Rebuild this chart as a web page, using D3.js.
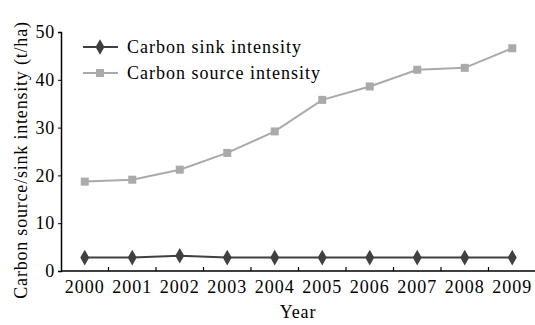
<!DOCTYPE html>
<html><head><meta charset="utf-8">
<script src="https://cdn.jsdelivr.net/npm/d3@7"></script>
<style>
body{margin:0;background:#fff;}
text{font-family:"Liberation Serif","Times New Roman",serif;fill:#000;}
</style></head>
<body><svg id="c" width="535" height="325"></svg>
<script>
const years = ["2000","2001","2002","2003","2004","2005","2006","2007","2008","2009"];
const sinkValues = [2.8, 2.8, 3.2, 2.8, 2.8, 2.8, 2.8, 2.8, 2.8, 2.8];
const sourceValues = [18.7, 19.1, 21.2, 24.7, 29.2, 35.8, 38.6, 42.1, 42.5, 46.6];
const yTicks = [0, 10, 20, 30, 40, 50];
const seriesNames = ["Carbon sink intensity", "Carbon source intensity"];

(function(){
const svg = d3.select("#c");
const mLeft = 61, mRight = 536, mTop = 32, mBottom = 271;
const x = d3.scaleBand().domain(years).range([mLeft, mRight]);
const y = d3.scaleLinear().domain([0, 50]).range([mBottom, mTop]);
const fs = 18;

// y axis
const ya = svg.append("g").attr("transform", `translate(${mLeft},0)`)
  .call(d3.axisLeft(y).tickValues(yTicks).tickSize(3).tickPadding(3));
ya.select(".domain").attr("stroke", "#000").attr("stroke-width", 1.5);
ya.selectAll("text").attr("font-size", fs).attr("letter-spacing", "0.8px");

// x axis line
svg.append("line").attr("x1", mLeft).attr("x2", 535).attr("y1", mBottom).attr("y2", mBottom)
  .attr("stroke", "#000").attr("stroke-width", 1.5);
// inner ticks at band boundaries
svg.append("g").selectAll("line").data(years.slice(1)).join("line")
  .attr("x1", d => x(d)).attr("x2", d => x(d))
  .attr("y1", mBottom).attr("y2", mBottom - 4)
  .attr("stroke", "#000").attr("stroke-width", 1.2);
svg.append("g").selectAll("text").data(years).join("text")
  .attr("x", d => x(d) + x.bandwidth() / 2).attr("y", mBottom + 22)
  .attr("text-anchor", "middle").attr("font-size", fs).attr("letter-spacing", "1px")
  .text(d => d);

// axis titles
svg.append("text").attr("x", 298).attr("y", 318).attr("text-anchor", "middle")
  .attr("font-size", fs).attr("letter-spacing", "0.8px").text("Year");
svg.append("text").attr("transform", "translate(27,160) rotate(-90)")
  .attr("text-anchor", "middle").attr("font-size", fs).attr("letter-spacing", "0.8px")
  .text("Carbon source/sink intensity (t/ha)");

const cx = d => x(d) + x.bandwidth() / 2;
const line = d3.line().x((d, i) => cx(years[i])).y(d => y(d));

const srcColor = "#aaaaaa", sinkColor = "#404040";

svg.append("path").datum(sourceValues).attr("d", line)
  .attr("fill", "none").attr("stroke", srcColor).attr("stroke-width", 2);
svg.append("g").selectAll("rect").data(sourceValues).join("rect")
  .attr("x", (d, i) => cx(years[i]) - 4).attr("y", d => y(d) - 4)
  .attr("width", 8).attr("height", 8).attr("fill", srcColor);

svg.append("path").datum(sinkValues).attr("d", line)
  .attr("fill", "none").attr("stroke", sinkColor).attr("stroke-width", 2);
const diamond = d3.symbol().type(d3.symbolDiamond).size(70);
svg.append("g").selectAll("path").data(sinkValues).join("path")
  .attr("transform", (d, i) => `translate(${cx(years[i])},${y(d)})`)
  .attr("d", diamond).attr("fill", sinkColor);

// legend
const leg = [{name: seriesNames[0], color: sinkColor, sym: "d", yy: 47},
             {name: seriesNames[1], color: srcColor, sym: "s", yy: 73}];
const lg = svg.append("g");
leg.forEach(l => {
  lg.append("line").attr("x1", 83).attr("x2", 118).attr("y1", l.yy).attr("y2", l.yy)
    .attr("stroke", l.color).attr("stroke-width", 2);
  if (l.sym === "d") lg.append("path").attr("transform", `translate(100,${l.yy})`).attr("d", diamond).attr("fill", l.color);
  else lg.append("rect").attr("x", 96).attr("y", l.yy - 4).attr("width", 8).attr("height", 8).attr("fill", l.color);
  lg.append("text").attr("x", 127).attr("y", l.yy + 6).attr("font-size", fs).attr("letter-spacing", "1px").text(l.name);
});
})();
</script></body></html>
